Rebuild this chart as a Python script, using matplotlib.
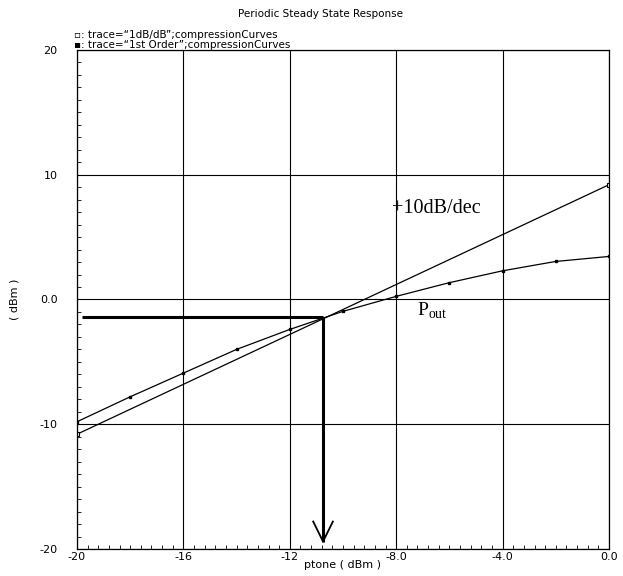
import matplotlib.pyplot as plt
from matplotlib.ticker import MultipleLocator, FixedLocator

# trace "1dB/dB" (ideal linear)
lin_x = [-20, 0]
lin_y = [-10.8, 9.2]

# trace "1st Order" (compressed output)
pout_x = [-20, -18, -16, -14, -12, -10, -8, -6, -4, -2, 0]
pout_y = [-9.8, -7.8, -5.9, -4.0, -2.4, -0.95, 0.25, 1.35, 2.3, 3.05, 3.45]

xticks = [-20, -16, -12, -8, -4, 0]
xtick_labels = ['-20', '-16', '-12', '-8.0', '-4.0', '0.0']
yticks = [-20, -10, 0, 10, 20]
ytick_labels = ['-20', '-10', '0.0', '10', '20']

# 1dB compression point
p_in = -10.75
p_out = -1.38

fig = plt.figure(figsize=(6.23, 5.76), dpi=100)
ax = fig.add_axes([0.1236, 0.0469, 0.8539, 0.8663])

ax.plot(lin_x, lin_y, color='black', lw=0.9, marker='s', ms=3.5,
        mfc='white', mec='black', mew=0.8)
ax.plot(pout_x, pout_y, color='black', lw=0.9, marker='s', ms=1.8,
        mfc='black', mec='black')

# thick marker lines with open arrow head
ax.plot([-19.8, p_in], [p_out, p_out], color='black', lw=2.2, solid_capstyle='butt')
ax.plot([p_in, p_in], [p_out, -19.4], color='black', lw=2.2, solid_capstyle='butt')
ax.plot([p_in - 0.37, p_in, p_in + 0.37], [-17.8, -19.4, -17.8], color='black', lw=1.3)

ax.text(-8.15, 6.9, '+10dB/dec', fontfamily='Liberation Serif', fontsize=14.5)
ax.text(-7.2, -1.3, r'P$_{\mathregular{out}}$', fontfamily='Liberation Serif', fontsize=14)

ax.set_xlim(-20, 0)
ax.set_ylim(-20, 20)
ax.xaxis.set_major_locator(FixedLocator(xticks))
ax.set_xticklabels(xtick_labels)
ax.yaxis.set_major_locator(FixedLocator(yticks))
ax.set_yticklabels(ytick_labels)
ax.xaxis.set_minor_locator(MultipleLocator(0.4))
ax.yaxis.set_minor_locator(MultipleLocator(1))
ax.tick_params(which='major', length=0, labelsize=8)
ax.tick_params(which='minor', direction='in', length=3, width=0.6)
ax.tick_params(axis='x', pad=2)
ax.tick_params(axis='y', pad=14)
ax.grid(True, which='major', color='black', lw=0.8)
for s in ax.spines.values():
    s.set_linewidth(0.9)

ax.set_xlabel('ptone ( dBm )', fontsize=8, labelpad=-1)
ax.set_ylabel('( dBm )', fontsize=8, labelpad=14)

fig.text(0.515, 0.975, 'Periodic Steady State Response', fontsize=7.5, ha='center', va='center')
fig.text(0.118, 0.939, '\u25ab: trace=\u201c1dB/dB\u201d;compressionCurves', fontsize=7.5, va='center')
fig.text(0.118, 0.922, '\u25aa: trace=\u201c1st Order\u201d;compressionCurves', fontsize=7.5, va='center')

fig.savefig('out.png', dpi=100)
